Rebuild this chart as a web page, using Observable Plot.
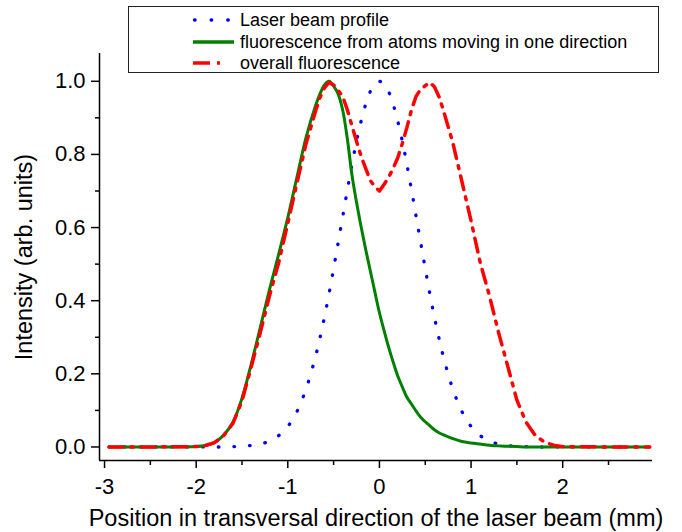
<!DOCTYPE html>
<html>
<head>
<meta charset="utf-8">
<script src="https://cdn.jsdelivr.net/npm/d3@7"></script>
<script src="https://cdn.jsdelivr.net/npm/@observablehq/plot@0.6"></script>
<style>
  body { margin: 0; background: #fff; }
  #wrap { position: relative; width: 682px; height: 532px; font-family: "Liberation Sans", Arial, sans-serif; }
  #legend { position: absolute; left: 128px; top: 6px; width: 531px; height: 67px; border: 1px solid #222; box-sizing: border-box; background: #fff; }
  .row { position: absolute; left: 0; height: 20px; line-height: 20px; font-size: 18px; color: #000; white-space: nowrap; }
  .row svg { position: absolute; left: 64px; top: 6px; }
  .row span { position: absolute; left: 111px; top: 0; }
</style>
</head>
<body>
<div id="wrap">
  <div id="chart"></div>
  <div id="legend"></div>
</div>
<script>
// ---- data ----
const xPos = [-2.95, -2.5, -2.0, -1.9, -1.8, -1.7, -1.6, -1.5, -1.4, -1.3, -1.2, -1.1, -1.0, -0.9, -0.8, -0.7,
  -0.65, -0.6, -0.55, -0.5, -0.45, -0.4, -0.35, -0.3, -0.25, -0.2, -0.15, -0.1, -0.05, 0,
  0.05, 0.1, 0.15, 0.2, 0.25, 0.3, 0.35, 0.4, 0.45, 0.5, 0.55, 0.6, 0.65,
  0.7, 0.8, 0.9, 1.0, 1.1, 1.2, 1.3, 1.4, 1.5, 1.6, 1.7, 1.8, 1.9, 2.0, 2.5, 2.95];

const laserProfile = [0, 0, 0, 0, 0, 0, 0.001, 0.002, 0.004, 0.008, 0.016, 0.031, 0.056, 0.097, 0.159, 0.245,
  0.297, 0.355, 0.419, 0.488, 0.559, 0.631, 0.703, 0.772, 0.836, 0.891, 0.937, 0.972, 0.993, 1.0,
  0.993, 0.972, 0.937, 0.891, 0.836, 0.772, 0.703, 0.631, 0.559, 0.488, 0.419, 0.355, 0.297,
  0.245, 0.159, 0.097, 0.056, 0.031, 0.016, 0.008, 0.004, 0.002, 0.001, 0, 0, 0, 0, 0, 0];

const oneDirection = [0, 0, 0.001, 0.004, 0.012, 0.033, 0.067, 0.133, 0.226, 0.327, 0.43, 0.527, 0.627, 0.738, 0.847, 0.931,
  0.965, 0.99, 1.0, 0.987, 0.965, 0.92, 0.842, 0.744, 0.669, 0.602, 0.540, 0.482, 0.424, 0.367,
  0.319, 0.273, 0.232, 0.194, 0.164, 0.136, 0.117, 0.098, 0.081, 0.069, 0.058, 0.047, 0.039,
  0.033, 0.023, 0.015, 0.011, 0.008, 0.005, 0.003, 0.002, 0.001, 0, 0, 0, 0, 0, 0, 0];

const overallFluor = [0, 0, 0.001, 0.004, 0.012, 0.031, 0.064, 0.126, 0.218, 0.313, 0.413, 0.504, 0.612, 0.722, 0.83, 0.916,
  0.955, 0.982, 0.997, 0.99, 0.975, 0.958, 0.922, 0.878, 0.836, 0.795, 0.762, 0.729, 0.712, 0.70,
  0.718, 0.737, 0.762, 0.791, 0.83, 0.874, 0.922, 0.959, 0.978, 0.988, 0.997, 0.985, 0.958,
  0.919, 0.833, 0.726, 0.618, 0.504, 0.414, 0.313, 0.221, 0.128, 0.068, 0.032, 0.013, 0.005, 0.001, 0, 0];

const seriesNames = ["Laser beam profile", "fluorescence from atoms moving in one direction", "overall fluorescence"];
const seriesColors = ["#0000ff", "#008000", "#ff0000"];

const xTicks = [-3, -2, -1, 0, 1, 2];
const xMinorTicks = [-2.5, -1.5, -0.5, 0.5, 1.5, 2.5];
const yTicks = [0, 0.2, 0.4, 0.6, 0.8, 1.0];
const yMinorTicks = [0.1, 0.3, 0.5, 0.7, 0.9];
const xDomain = [-3.055, 2.98];
const yDomain = [-0.037, 1.076];
const xTitle = "Position in transversal direction of the laser beam (mm)";
const yTitle = "Intensity (arb. units)";

// ---- build ----
const rows = xPos.map((x, i) => ({x, laser: laserProfile[i], one: oneDirection[i], overall: overallFluor[i]}));
const font = "'Liberation Sans', Arial, sans-serif";
const blank = () => "";

const chart = Plot.plot({
  width: 682,
  height: 532,
  marginLeft: 99,
  marginRight: 30,
  marginTop: 53,
  marginBottom: 72,
  x: {domain: xDomain},
  y: {domain: yDomain},
  style: {fontFamily: font, color: "#000", background: "#fff", overflow: "visible"},
  marks: [
    Plot.line(rows, {x: "x", y: "laser", stroke: seriesColors[0], strokeWidth: 3.3, strokeDasharray: "0.6 15", strokeLinecap: "round", curve: "catmull-rom"}),
    Plot.line(rows, {x: "x", y: "one", stroke: seriesColors[1], strokeWidth: 3, curve: "catmull-rom"}),
    Plot.line(rows, {x: "x", y: "overall", stroke: seriesColors[2], strokeWidth: 3.5, strokeDasharray: "14 7.5 3 7.5", curve: "linear"}),
    Plot.ruleX([xDomain[0]], {stroke: "#000", strokeWidth: 1.5}),
    Plot.ruleY([yDomain[0]], {stroke: "#000", strokeWidth: 1.5}),
    Plot.axisY({ticks: yTicks, tickSize: 8, tickPadding: 6, strokeWidth: 1.5, tickFormat: d3.format(".1f"), fontSize: 22, label: null}),
    Plot.axisY({ticks: yMinorTicks, tickSize: 4, strokeWidth: 1.5, tickFormat: blank, label: null}),
    Plot.axisY({ticks: [], tickSize: 0, fontSize: 23.5, label: yTitle, labelAnchor: "center", labelArrow: "none", labelOffset: 84}),
    Plot.axisX({ticks: xTicks, tickSize: 8, tickPadding: 10, strokeWidth: 1.5, tickFormat: d => String(d), fontSize: 22, label: null}),
    Plot.axisX({ticks: xMinorTicks, tickSize: 5, strokeWidth: 1.5, tickFormat: blank, label: null}),
    Plot.axisX({ticks: [], tickSize: 0, fontSize: 23.5, label: xTitle, labelAnchor: "center", labelArrow: "none", labelOffset: 65})
  ]
});
document.getElementById("chart").appendChild(chart);

// ---- legend (overlay box) ----
const legend = document.getElementById("legend");
const rowTops = [3, 25, 46];
const dashes = ["0.6 16", null, "17 7 3 30"];
seriesNames.forEach((name, i) => {
  const row = document.createElement("div");
  row.className = "row";
  row.style.top = rowTops[i] + "px";
  const cap = i === 0 ? "round" : "butt";
  const da = dashes[i] ? `stroke-dasharray="${dashes[i]}"` : "";
  const x1 = i === 0 ? 1.5 : 0;
  row.innerHTML = `<svg width="42" height="8"><line x1="${x1}" y1="4" x2="41" y2="4" stroke="${seriesColors[i]}" stroke-width="3.3" stroke-linecap="${cap}" ${da}/></svg><span>${name}</span>`;
  legend.appendChild(row);
});
</script>
</body>
</html>
